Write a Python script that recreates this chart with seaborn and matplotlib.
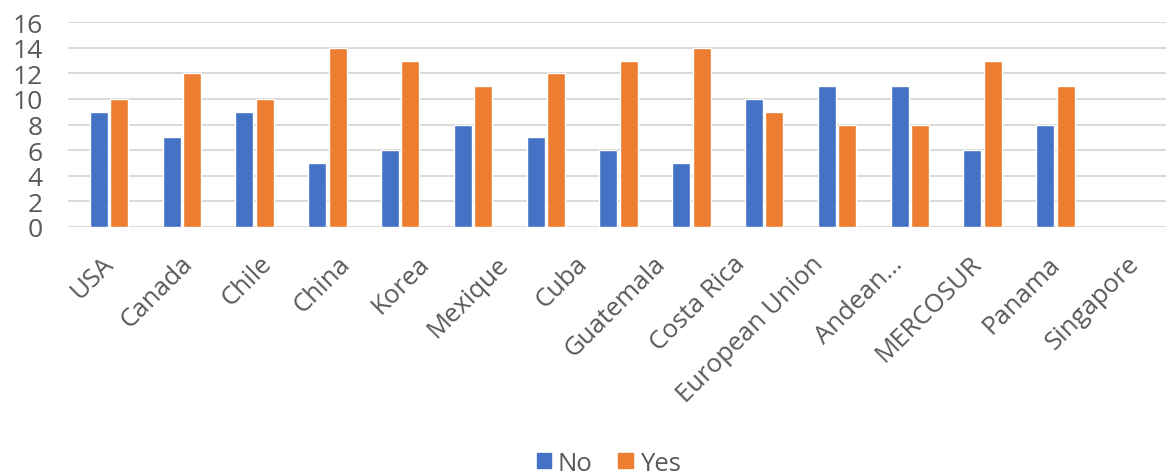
import numpy as np
import pandas as pd
import seaborn as sns
import matplotlib.pyplot as plt

categories = ["USA", "Canada", "Chile", "China", "Korea", "Mexique", "Cuba",
              "Guatemala", "Costa Rica", "European Union", "Andean\u2026",
              "MERCOSUR", "Panama", "Singapore"]
no_values = [9, 7, 9, 5, 6, 8, 7, 6, 5, 10, 11, 11, 6, 8]
yes_values = [10, 12, 10, 14, 13, 11, 12, 13, 14, 9, 8, 8, 13, 11]

df = pd.DataFrame({"Country": categories * 2,
                   "Answer": ["No"] * len(categories) + ["Yes"] * len(categories),
                   "Count": no_values + yes_values})

sns.set_style("white")
plt.rcParams['font.family'] = ['Open Sans', 'DejaVu Sans']

fig = plt.figure(figsize=(11.66, 4.77), dpi=100)
ax = fig.add_axes([0.0583, 0.5226, 0.9417, 0.4285])
sns.barplot(data=df, x="Country", y="Count", hue="Answer",
            palette={"No": "#4472C4", "Yes": "#ED7D31"},
            width=0.56, gap=0.12, ax=ax, legend=False, saturation=1)

ax.set_ylim(0, 16)
ax.set_yticks(range(0, 17, 2))
ax.set_xlim(-0.563, 14.52)
ax.yaxis.grid(True, color="#D9D9D9", linewidth=1.4)
ax.set_axisbelow(True)
for s in ax.spines.values():
    s.set_visible(False)
ax.set_xlabel("")
ax.set_ylabel("")
ax.tick_params(axis="y", length=0, labelsize=19, labelcolor="#595959", pad=18)

# category labels sit on a slightly wider pitch than the bars (as in the original)
label_pos = np.arange(len(categories)) * 1.083 + 0.08
ax.set_xticks(label_pos)
ax.set_xticklabels(categories, rotation=45, ha="right", va="baseline",
                   rotation_mode="anchor")
ax.tick_params(axis="x", length=0, labelsize=18.5, labelcolor="#595959", pad=27)

handles = [plt.Rectangle((0, 0), 1, 1, color="#4472C4"),
           plt.Rectangle((0, 0), 1, 1, color="#ED7D31")]
fig.legend(handles, ["No", "Yes"], loc="center", bbox_to_anchor=(0.522, 0.027),
           ncol=2, frameon=False, fontsize=18.5, handlelength=0.55, handleheight=0.55,
           handletextpad=0.27, columnspacing=1.0, labelcolor="#595959")

fig.savefig("out.png", dpi=100)
